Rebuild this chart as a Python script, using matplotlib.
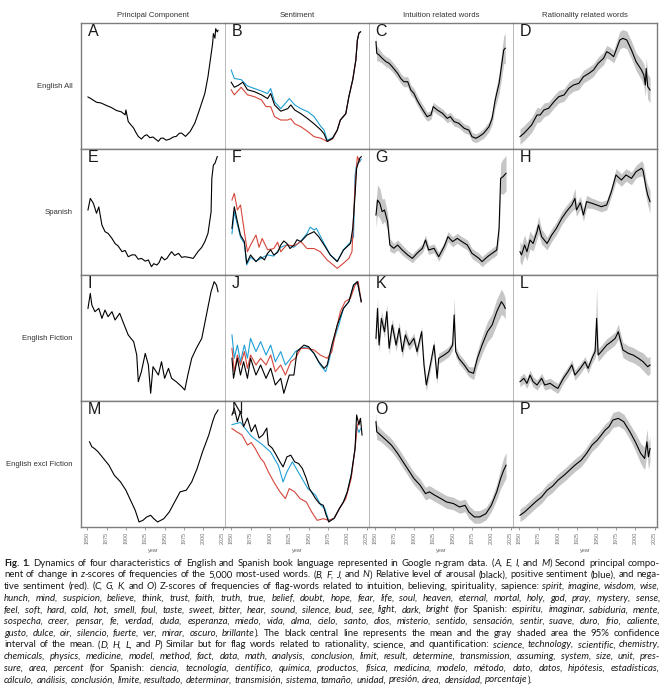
import matplotlib
matplotlib.use("Agg")
import matplotlib.pyplot as plt
import numpy as np

# ── panel data (y scaled 0..100 within each panel) ─────────────────────────────
# A  English All, principal component
a_year = [1851, 1856, 1862, 1868, 1875, 1881, 1888, 1894, 1899, 1900, 1903, 1906, 1910, 1913, 1916,
          1920, 1924, 1927, 1931, 1935, 1938, 1942, 1945, 1948, 1952, 1957, 1961, 1965, 1969, 1972,
          1977, 1983, 1989, 1995, 2002, 2006, 2009, 2012, 2013, 2015, 2016, 2018, 2019]
a_val = [41.3, 39.5, 37.1, 36.5, 34.5, 33.0, 30.5, 29.5, 27.1, 31.0, 21.8, 19.5, 16.6, 13.0, 10.0,
         7.9, 10.5, 11.3, 9.0, 9.5, 8.0, 6.1, 8.5, 8.7, 7.0, 7.9, 9.5, 10.0, 12.5, 12.6,
         10.0, 13.9, 20.5, 31.1, 44.2, 57.4, 70.5, 83.7, 91.6, 88.0, 95.5, 92.9, 94.2]

# B  English All, sentiment
b_k_year = [1850, 1854, 1859, 1865, 1871, 1880, 1889, 1897, 1901, 1906, 1914, 1923, 1927, 1932, 1940,
            1949, 1957, 1966, 1970, 1974, 1981, 1987, 1991, 1998, 2002, 2007, 2011, 2013, 2015, 2017]
b_k_val = [53, 49, 50.5, 53, 47, 45.5, 43, 40, 44, 35, 30, 32, 35, 31, 28,
           24, 20, 15, 12, 6, 8.5, 15, 23, 28, 41.5, 55, 70.6, 86.5, 92, 93]
b_b_year = [1850, 1854, 1863, 1871, 1880, 1889, 1897, 1901, 1906, 1914, 1925, 1932, 1940, 1949,
            1957, 1966, 1970, 1974, 1981, 1987, 1991, 1998, 2002, 2007, 2011, 2013, 2015, 2017]
b_b_val = [62.7, 56, 55, 50, 48, 46, 44, 48, 37.5, 32, 40, 35, 32, 29.6,
           25.7, 17.7, 15, 7, 9, 15, 23, 28, 41.5, 55, 70.6, 86.5, 92, 93]
b_r_year = [1850, 1854, 1863, 1871, 1880, 1889, 1895, 1901, 1906, 1914, 1923, 1927, 1932, 1940,
            1949, 1957, 1966, 1974, 1981, 1987, 1991, 1998, 2002, 2007, 2011, 2013, 2015, 2017]
b_r_val = [47, 43, 49, 43, 41.5, 39, 33.6, 33.6, 25.7, 23, 23, 24, 20, 17.7,
           13.8, 9.8, 8.5, 6, 8, 15, 23, 28, 41.5, 55, 70.6, 86.5, 92, 93]

# C  English All, intuition words (mean and 95% CI half-width)
c_year = [1851, 1852, 1855, 1859, 1864, 1868, 1872, 1879, 1883, 1887, 1892, 1896, 1900, 1904, 1909,
          1913, 1917, 1922, 1925, 1930, 1937, 1943, 1947, 1952, 1958, 1965, 1971, 1975, 1980, 1984,
          1990, 1997, 2001, 2005, 2010, 2013, 2016, 2018]
c_mean = [85.2, 76, 74.6, 72, 69.3, 68, 65.3, 60, 56, 53.4, 53.4, 46.8, 44.2, 38.9, 33.6,
          29.6, 25.7, 27, 33.6, 31, 28.3, 24.3, 25.7, 21.7, 20.4, 16.4, 15, 9.8, 8.5, 9.8,
          12.4, 17.7, 24.3, 38.9, 52, 65.3, 78.6, 80]
c_ci = [6, 6, 5, 4, 4, 4, 4, 4, 4, 4, 4, 4, 4, 4, 4,
        4, 3.5, 3.5, 3.5, 3.5, 3.5, 3.5, 3.5, 3.5, 3.5, 3.5, 3.5, 3.5, 3.5, 3.5,
        4, 4, 5, 6, 8, 10, 11, 12]

# D  English All, rationality words
d_year = [1851, 1856, 1860, 1866, 1873, 1877, 1882, 1888, 1895, 1901, 1908, 1914, 1920, 1927, 1933,
          1940, 1946, 1952, 1959, 1963, 1967, 1972, 1976, 1980, 1984, 1989, 1995, 2001, 2008, 2011,
          2013, 2014, 2016, 2019]
d_mean = [9.8, 12.4, 15, 19, 27, 27, 31, 32.3, 37.6, 41.5, 42.9, 48.1, 50.8, 52.1, 57.4,
          60, 62.7, 68, 72, 77.2, 75.9, 73.3, 79.9, 86.5, 87.8, 86.5, 78.6, 69.3, 62.7, 58.7,
          50.8, 64, 49.5, 46.8]
d_ci = [6, 6, 6, 6, 6, 5.5, 5.5, 5, 5, 5, 5, 5, 5, 5, 5,
        5, 5, 5, 5, 5, 5, 5, 6, 7, 7, 7, 7, 7, 8, 9,
        9, 9, 10, 10]

# E  Spanish, principal component
e_year = [1851, 1854, 1858, 1862, 1865, 1869, 1873, 1877, 1882, 1886, 1890, 1895, 1899, 1903, 1908,
          1912, 1916, 1920, 1925, 1929, 1933, 1936, 1940, 1943, 1946, 1950, 1953, 1956, 1959, 1963,
          1968, 1972, 1976, 1981, 1987, 1993, 1998, 2002, 2006, 2010, 2011, 2013, 2015, 2018]
e_val = [51.6, 60.8, 56.9, 49, 54, 39.7, 34.4, 33, 29, 25, 23, 18.5, 19.5, 14.5, 16,
         15.9, 12.5, 13.2, 11, 11.9, 6.6, 9, 7.9, 10, 14.5, 12, 13.2, 16, 18.5, 15.5,
         17.2, 14, 14.5, 14, 13.2, 18.5, 22, 26.5, 33, 50, 76.7, 87.3, 88.6, 94]

# F  Spanish, sentiment
f_k_year = [1851, 1854, 1858, 1862, 1867, 1870, 1875, 1882, 1888, 1893, 1897, 1901, 1905, 1910, 1914,
            1918, 1922, 1926, 1931, 1935, 1940, 1948, 1957, 1963, 1970, 1978, 1987, 1995, 2004, 2007,
            2010, 2012, 2016, 2018]
f_k_val = [37, 54.2, 42.3, 31.7, 26.5, 9.3, 15.9, 10.6, 14.5, 12, 17.2, 20, 15.9, 18, 23.8,
           27, 25, 21, 23.8, 28, 26.5, 31.7, 34.4, 30.4, 23.8, 15.9, 10.6, 19.8, 25, 37,
           63.5, 84.6, 92.6, 94]
f_b_year = [1851, 1854, 1858, 1862, 1867, 1870, 1875, 1882, 1888, 1897, 1905, 1914, 1922, 1931, 1940,
            1948, 1952, 1957, 1960, 1965, 1970, 1978, 1987, 1995, 2004, 2008, 2010, 2012, 2016, 2018]
f_b_val = [32.8, 50, 40, 30, 25, 8, 14, 11, 13, 16, 15, 22, 24, 22, 27,
           33, 38, 35.7, 37, 31, 25, 16, 11, 20, 26, 30, 79, 88, 90, 92]
f_r_year = [1851, 1854, 1858, 1862, 1867, 1871, 1875, 1882, 1886, 1890, 1897, 1905, 1910, 1914,
            1922, 1931, 1940, 1948, 1957, 1965, 1974, 1987, 1995, 2002, 2006, 2010, 2013, 2016]
f_r_val = [59.5, 64.8, 51.6, 55.6, 34.4, 18.5, 23.8, 31.7, 22, 29, 20, 21, 26, 18.5,
           24, 23, 26.5, 21, 21, 18.5, 11.9, 5.3, 9.3, 13.2, 18.5, 71.4, 94, 90]

# G  Spanish, intuition words
g_year = [1851, 1853, 1856, 1859, 1862, 1866, 1869, 1874, 1879, 1885, 1892, 1898, 1904, 1911, 1915,
          1919, 1926, 1932, 1939, 1944, 1950, 1956, 1962, 1969, 1975, 1984, 1988, 1995, 2001, 2007,
          2010, 2012, 2015, 2019]
g_mean = [47.6, 59.5, 56.9, 50.3, 51.6, 42.3, 23.8, 21.2, 23.8, 19.8, 15.9, 13.2, 17.2, 21.2, 27.8,
          19.8, 21.2, 14.5, 22.5, 30.4, 26.5, 29.1, 26.5, 23.8, 17.2, 13.2, 10.6, 14.5, 17.2, 19.8,
          37, 76.7, 78, 80.7]
g_ci = [10, 12, 12, 10, 9, 7, 5, 4, 4, 4, 3.5, 3.5, 3.5, 3.5, 4,
        3.5, 3.5, 3.5, 3.5, 4, 4, 4, 4, 4, 4, 4, 4, 4, 4, 4,
        8, 12, 14, 14]

# H  Spanish, rationality words
h_year = [1851, 1853, 1857, 1860, 1864, 1868, 1873, 1875, 1879, 1886, 1892, 1898, 1905, 1911, 1918,
          1922, 1924, 1929, 1933, 1937, 1944, 1950, 1956, 1963, 1969, 1975, 1982, 1988, 1995, 2001,
          2008, 2010, 2014, 2016, 2019]
h_mean = [18.5, 15.9, 23.8, 18.5, 27.8, 25, 34.4, 39.7, 30.4, 25, 31.7, 37, 45, 50.3, 55.6,
          60.8, 51.6, 57.4, 47.6, 58.2, 56.9, 55.6, 54.2, 55.6, 66.1, 79.4, 75.4, 79.4, 76.7, 82,
          84.7, 83, 68.8, 63.5, 58.2]
h_ci = [8, 8, 8, 7, 7, 6, 6, 7, 6, 5, 5, 5, 5, 5, 5,
        8, 5, 5, 5, 5, 4, 4, 4, 4, 4, 5, 5, 5, 5, 5,
        6, 6, 7, 8, 9]

# I  English Fiction, principal component
i_year = [1851, 1854, 1856, 1860, 1865, 1869, 1873, 1877, 1882, 1886, 1892, 1897, 1903, 1910, 1914,
          1916, 1920, 1925, 1929, 1932, 1935, 1942, 1946, 1950, 1955, 1959, 1965, 1972, 1976, 1980,
          1985, 1991, 1998, 2004, 2010, 2014, 2017, 2019]
i_val = [73.5, 85.4, 76.2, 70.9, 73.5, 65.6, 72.2, 66.9, 70.9, 64.3, 69.6, 61.6, 52.4, 47.1, 36.5,
         15.3, 23.3, 37.8, 28.6, 6.1, 27.2, 20.6, 31.2, 18, 25.9, 18, 15.3, 11.4, 8.7, 20.6,
         33.9, 41.8, 49.7, 68.3, 86.8, 94.7, 92, 86.8]

# J  English Fiction, sentiment
j_k_year = [1851, 1853, 1858, 1862, 1866, 1871, 1875, 1882, 1888, 1895, 1901, 1907, 1914, 1918, 1925,
            1931, 1935, 1944, 1950, 1957, 1963, 1970, 1974, 1980, 1987, 1995, 2002, 2008, 2013, 2018]
j_k_val = [33.9, 18, 33.9, 20.6, 31.2, 18, 33.9, 20.6, 28.6, 18, 26, 12.7, 18, 6.1, 20.6,
           20.6, 39.2, 44.4, 43.1, 37.8, 31.2, 25.9, 28.6, 44.4, 60.3, 73.5, 78.8, 92, 94.7, 78.8]
j_b_year = [1851, 1854, 1858, 1862, 1867, 1871, 1875, 1882, 1888, 1895, 1901, 1907, 1914, 1920, 1927,
            1933, 1940, 1948, 1957, 1965, 1972, 1976, 1982, 1989, 1995, 2002, 2008, 2013, 2018]
j_b_val = [52.4, 33.9, 44.4, 31.2, 44.4, 33.9, 49.7, 39.2, 47.1, 36.5, 44.4, 31.2, 39.2, 28.6, 33.9,
           39.2, 41.8, 43.1, 37.8, 28.6, 23.3, 31.2, 47.1, 60.3, 73.5, 78.8, 92, 94.7, 78.8]
j_r_year = [1851, 1854, 1858, 1862, 1867, 1871, 1875, 1882, 1888, 1895, 1901, 1907, 1914, 1920, 1927,
            1933, 1940, 1948, 1957, 1965, 1974, 1980, 1985, 1991, 1997, 2004, 2010, 2014, 2018]
j_r_val = [41.8, 23.3, 36.5, 28.6, 39.2, 25.9, 36.5, 28.6, 33.9, 28.6, 36.5, 23.3, 28.6, 20.6, 31.2,
           33.9, 41.8, 41.8, 40.5, 36.5, 33.9, 39.2, 55, 70.9, 78.8, 81.5, 92, 94.7, 78.8]

# K  English Fiction, intuition words
k_year = [1851, 1853, 1855, 1858, 1862, 1865, 1868, 1872, 1877, 1881, 1885, 1889, 1894, 1900, 1904,
          1910, 1913, 1916, 1922, 1926, 1930, 1932, 1939, 1945, 1950, 1952, 1954, 1958, 1965, 1971,
          1977, 1982, 1988, 1995, 2001, 2007, 2013, 2016, 2018]
k_mean = [49.7, 73.5, 44.4, 65.6, 55, 70.9, 41.8, 60.3, 44.4, 57.7, 39.2, 52.4, 44.4, 49.7, 39.2,
          55, 28.6, 12.7, 31.2, 44.4, 18, 33.9, 36.5, 39.2, 44.4, 68.3, 39.2, 33.9, 28.6, 23.3,
          22, 33.9, 44.4, 55, 60.3, 70.9, 78.8, 76.2, 73.5]
k_ci = [6, 8, 6, 6, 5, 6, 5, 5, 5, 5, 5, 5, 4, 4, 4,
        4, 5, 5, 4, 4, 5, 4, 4, 4, 4, 14, 4, 4, 4, 4,
        5, 6, 7, 8, 9, 10, 10, 9, 8]

# L  English Fiction, rationality words
l_year = [1851, 1856, 1860, 1864, 1868, 1873, 1879, 1883, 1890, 1896, 1900, 1907, 1913, 1918, 1922,
          1929, 1935, 1939, 1944, 1948, 1950, 1952, 1956, 1963, 1969, 1974, 1978, 1980, 1984, 1991,
          1997, 2004, 2010, 2016, 2019]
l_mean = [15.3, 18, 14, 20.6, 15.3, 12.7, 18, 12.7, 14, 11.4, 10, 18, 23.3, 28.6, 20.6,
          25.9, 31.2, 25.9, 33.9, 39.2, 65.6, 36.5, 39.2, 44.4, 47.1, 49.7, 55, 50, 40.5, 37.8,
          36.5, 33.9, 31.2, 27.2, 28.6]
l_ci = [4, 4, 4, 4, 4, 4, 4, 4, 4, 4, 4, 4, 4, 4, 4,
        4, 4, 4, 4, 5, 25, 5, 5, 5, 5, 5, 6, 6, 6, 6,
        6, 6, 7, 7, 7]

# M  English excl Fiction, principal component
m_year = [1853, 1856, 1860, 1864, 1871, 1878, 1885, 1893, 1900, 1902, 1907, 1912, 1917, 1922, 1927,
          1932, 1936, 1941, 1949, 1956, 1963, 1970, 1978, 1985, 1992, 1999, 2007, 2012, 2015, 2019]
m_val = [67.6, 63.7, 62, 59.7, 54.4, 49.1, 41.1, 35.8, 29.2, 26.5, 19.9, 13.3, 4, 5.3, 8,
         9.3, 6.6, 4, 6.6, 11.9, 19.9, 27.9, 29.2, 35.8, 46.4, 59.7, 72.9, 83.6, 88.9, 92.8]

# N  English excl Fiction, sentiment
n_k_year = [1851, 1854, 1858, 1862, 1866, 1871, 1876, 1881, 1886, 1891, 1896, 1898, 1903, 1908, 1913,
            1917, 1922, 1927, 1932, 1937, 1942, 1947, 1951, 1959, 1964, 1969, 1972, 1976, 1983, 1990,
            1995, 2000, 2005, 2010, 2012, 2015, 2017, 2019]
n_k_val = [88.9, 94.2, 83.6, 91.8, 79.6, 86.5, 75.6, 81.2, 70.6, 73.2, 78.5, 65.3, 62.6, 57.3, 51.7,
           47.7, 55.7, 57, 51.7, 50.4, 46.4, 38.5, 30.5, 22.5, 18.6, 17.2, 10.6, 4, 6.9, 14.9,
           19.9, 27.9, 41.1, 62.3, 88.9, 81, 86.2, 73]
n_b_year = [1851, 1862, 1876, 1891, 1901, 1911, 1917, 1922, 1929, 1939, 1949, 1959, 1966, 1971, 1976,
            1983, 1990, 1995, 2000, 2005, 2010, 2012, 2015, 2017]
n_b_val = [81.2, 83, 72, 65, 59.4, 48.8, 35.8, 43.8, 51.7, 41.1, 30.5, 25.2, 17.2, 14.6, 5,
           6.9, 14.9, 19.9, 27.9, 41.1, 62.3, 80, 75, 78]
n_r_year = [1851, 1857, 1864, 1871, 1876, 1881, 1888, 1892, 1898, 1905, 1913, 1920, 1925, 1932, 1939,
            1947, 1954, 1961, 1969, 1976, 1983, 1990, 1998, 2005, 2010, 2013, 2017]
n_r_val = [78.2, 75.6, 73, 65, 67, 62.3, 54.4, 51.7, 43.8, 35.8, 27.9, 22.5, 30.5, 27.9, 22.5,
           19.9, 11.9, 5.3, 6.6, 5.3, 6.9, 14.9, 22.5, 38.5, 62.3, 81, 86]

# O  English excl Fiction, intuition words
o_year = [1851, 1852, 1857, 1864, 1871, 1879, 1886, 1893, 1900, 1908, 1915, 1920, 1927, 1935, 1942,
          1951, 1959, 1966, 1971, 1978, 1985, 1993, 2000, 2007, 2012, 2016, 2019]
o_mean = [83.6, 75.6, 72.9, 69, 65, 58.4, 51.7, 45.1, 38.5, 33.2, 26.5, 27.9, 25.2, 22.5, 19.9,
          18.6, 15.9, 17.2, 11.9, 8, 8, 10.6, 17.2, 27.9, 38.5, 45.1, 49]
o_ci = [8, 6, 5, 5, 5, 5, 5, 5, 5, 5, 5, 5, 5, 5, 5,
        5, 5, 5, 5, 5, 5, 5, 5, 6, 8, 10, 10]

# P  English excl Fiction, rationality words
p_year = [1851, 1857, 1864, 1871, 1879, 1886, 1893, 1900, 1908, 1915, 1922, 1930, 1937, 1944, 1951,
          1956, 1961, 1966, 1971, 1978, 1985, 1993, 2000, 2007, 2012, 2015, 2017, 2019]
p_mean = [9.3, 11.9, 15.9, 19.9, 23.9, 29.2, 32.4, 37.1, 41.1, 45.1, 49.1, 53, 58.4, 65, 69,
          72.9, 76.9, 79.6, 84.9, 86.2, 83.6, 75.6, 67.6, 58.4, 54.4, 67.6, 55.7, 62.3]
p_ci = [5, 5, 5, 5, 5, 5, 5, 5, 5, 5, 5, 5, 5, 5, 5,
        5, 5, 5, 6, 6, 6, 6, 7, 8, 9, 10, 10, 10]

col_titles = ["Principal Component", "Sentiment", "Intuition related words", "Rationality related words"]
row_titles = ["English All", "Spanish", "English Fiction", "English excl Fiction"]
panel_letters = ["A", "B", "C", "D", "E", "F", "G", "H", "I", "J", "K", "L", "M", "N", "O", "P"]
year_ticks = [1850, 1875, 1900, 1925, 1950, 1975, 2000, 2025]

# caption lines: (text, style)  n = normal, i = italic, b = bold
caption = [
    [("Fig. 1.", "b"), (" Dynamics of four characteristics of English and Spanish book language represented in Google n-gram data. (", "n"),
     ("A, E, I,", "i"), (" and ", "n"), ("M", "i"), (") Second principal compo-", "n")],
    [("nent of change in ", "n"), ("z", "i"), ("-scores of frequencies of the 5,000 most-used words. (", "n"), ("B, F, J,", "i"),
     (" and ", "n"), ("N", "i"), (") Relative level of arousal (black), positive sentiment (blue), and nega-", "n")],
    [("tive sentiment (red). (", "n"), ("C, G, K,", "i"), (" and ", "n"), ("O", "i"),
     (") Z-scores of frequencies of flag-words related to intuition, believing, spirituality, sapience: ", "n"),
     ("spirit, imagine, wisdom, wise,", "i")],
    [("hunch, mind, suspicion, believe, think, trust, faith, truth, true, belief, doubt, hope, fear, life, soul, heaven, eternal, mortal, holy, god, pray, mystery, sense,", "i")],
    [("feel, soft, hard, cold, hot, smell, foul, taste, sweet, bitter, hear, sound, silence, loud, see, light, dark, bright", "i"),
     (" (for Spanish: ", "n"), ("espiritu, imaginar, sabiduria, mente,", "i")],
    [("sospecha, creer, pensar, fe, verdad, duda, esperanza, miedo, vida, alma, cielo, santo, dios, misterio, sentido, sensación, sentir, suave, duro, frio, caliente,", "i")],
    [("gusto, dulce, oir, silencio, fuerte, ver, mirar, oscuro, brillante", "i"),
     ("). The black central line represents the mean and the gray shaded area the 95% confidence", "n")],
    [("interval of the mean. (", "n"), ("D, H, L,", "i"), (" and ", "n"), ("P", "i"),
     (") Similar but for flag words related to rationality, science, and quantification: ", "n"),
     ("science, technology, scientific, chemistry,", "i")],
    [("chemicals, physics, medicine, model, method, fact, data, math, analysis, conclusion, limit, result, determine, transmission, assuming, system, size, unit, pres-", "i")],
    [("sure, area, percent", "i"), (" (for Spanish: ", "n"),
     ("ciencia, tecnología, científico, química, productos, física, medicina, modelo, método, dato, datos, hipótesis, estadísticas,", "i")],
    [("cálculo, análisis, conclusión, límite, resultado, determinar, transmisión, sistema, tamaño, unidad, presión, área, densidad, porcentaje", "i"),
     (").", "n")],
]

# ── layout ────────────────────────────────────────────────────────────────────
FW, FH = 665, 692
COL_X = [81, 225, 369, 513]
ROW_Y = [23, 149, 275, 401]
PW, PH = 144, 126
DARK_EDGE = "#7d7d7d"
LIGHT_EDGE = "#b8b8b8"
BLUE = "#1f9fd5"
RED = "#d6463b"
BAND = "#c6c6c6"
LBL_FONT = ["Liberation Sans", "DejaVu Sans"]
CAP_FONT = ["Lato", "DejaVu Sans"]

fig = plt.figure(figsize=(FW / 100, FH / 100), dpi=100)
fig.patch.set_facecolor("white")


def make_ax(r, c):
    ax = fig.add_axes([COL_X[c] / FW, 1 - (ROW_Y[r] + PH) / FH, PW / FW, PH / FH])
    ax.set_xlim(1842, 2028)
    ax.set_ylim(0, 100)
    ax.set_yticks([])
    for side, sp in ax.spines.items():
        if side in ("top", "bottom"):
            sp.set_color(DARK_EDGE)
            sp.set_linewidth(1.0)
        else:
            sp.set_color(LIGHT_EDGE)
            sp.set_linewidth(0.7)
    if c == 0:
        ax.spines["left"].set_color(DARK_EDGE)
        ax.spines["left"].set_linewidth(1.0)
    if c == 3:
        ax.spines["right"].set_color(DARK_EDGE)
        ax.spines["right"].set_linewidth(1.0)
    if r == 3:
        ax.set_xticks(year_ticks)
        ax.set_xticklabels([str(t) for t in year_ticks], rotation=90, fontsize=3.9,
                           color="#707070", family=LBL_FONT)
        ax.tick_params(axis="x", length=2.2, width=0.5, color="#777777", pad=1.2)
        ax.set_xlabel("year", fontsize=4, color="#666666", labelpad=2.5, family=LBL_FONT)
    else:
        ax.set_xticks([])
    ax.text(0.045, 0.992, panel_letters[r * 4 + c], transform=ax.transAxes, ha="left", va="top",
            fontsize=11.5, color="#1a1a1a", family=LBL_FONT)
    return ax


def draw_pc(ax, yr, v):
    ax.plot(yr, v, color="black", lw=0.8)


def draw_sent(ax, kb, kv, bb, bv, rb, rv):
    ax.plot(bb, bv, color=BLUE, lw=0.8)
    ax.plot(rb, rv, color=RED, lw=0.8)
    ax.plot(kb, kv, color="black", lw=0.8)


def draw_band(ax, yr, m, ci):
    yr, m, ci = np.array(yr), np.array(m), np.array(ci)
    ax.fill_between(yr, m - ci, m + ci, color=BAND, lw=0)
    ax.plot(yr, m, color="black", lw=0.8)


pc_data = [(a_year, a_val), (e_year, e_val), (i_year, i_val), (m_year, m_val)]
sent_data = [
    (b_k_year, b_k_val, b_b_year, b_b_val, b_r_year, b_r_val),
    (f_k_year, f_k_val, f_b_year, f_b_val, f_r_year, f_r_val),
    (j_k_year, j_k_val, j_b_year, j_b_val, j_r_year, j_r_val),
    (n_k_year, n_k_val, n_b_year, n_b_val, n_r_year, n_r_val),
]
intu_data = [(c_year, c_mean, c_ci), (g_year, g_mean, g_ci), (k_year, k_mean, k_ci), (o_year, o_mean, o_ci)]
rat_data = [(d_year, d_mean, d_ci), (h_year, h_mean, h_ci), (l_year, l_mean, l_ci), (p_year, p_mean, p_ci)]

for r in range(4):
    draw_pc(make_ax(r, 0), *pc_data[r])
    draw_sent(make_ax(r, 1), *sent_data[r])
    draw_band(make_ax(r, 2), *intu_data[r])
    draw_band(make_ax(r, 3), *rat_data[r])

for c, title in enumerate(col_titles):
    fig.text((COL_X[c] + PW / 2) / FW, 1 - 15.5 / FH, title, ha="center", va="center",
             fontsize=5.6, color="#333333", family=LBL_FONT)
for r, title in enumerate(row_titles):
    fig.text(73 / FW, 1 - (ROW_Y[r] + PH / 2) / FH, title, ha="right", va="center",
             fontsize=5.6, color="#333333", family=LBL_FONT)

# ── caption, justified word by word ───────────────────────────────────────────
renderer = fig.canvas.get_renderer()
CAP_L, CAP_R = 4, 660
CAP_BASE, CAP_STEP = 565.5, 11.7


def style_kw(st):
    return dict(fontstyle="italic" if st == "i" else "normal",
                fontweight="bold" if st == "b" else "normal")


def piece_w(txt, st, size):
    t = fig.text(0, 0, txt, fontsize=size, family=CAP_FONT, **style_kw(st))
    w = t.get_window_extent(renderer).width
    t.remove()
    return w


def split_words(segs):
    words = [[]]
    for txt, st in segs:
        for k, p in enumerate(txt.split(" ")):
            if k > 0:
                words.append([])
            if p:
                words[-1].append((p, st))
    return [w for w in words if w]


line_words = [split_words(segs) for segs in caption]
base = 10.0
space10 = piece_w("a a", "n", base) - piece_w("aa", "n", base)
size = 7.0
for words in line_words[:-1]:
    tot = sum(piece_w(p, st, base) for w in words for p, st in w) + (len(words) - 1) * space10
    size = min(size, base * (CAP_R - CAP_L) / tot * 0.995)

space = space10 * size / base
for li, words in enumerate(line_words):
    widths = [[piece_w(p, st, size) for p, st in w] for w in words]
    total = sum(sum(ws) for ws in widths)
    if li < len(line_words) - 1 and len(words) > 1:
        gap = (CAP_R - CAP_L - total) / (len(words) - 1)
    else:
        gap = space
    x = CAP_L
    y = 1 - (CAP_BASE + li * CAP_STEP) / FH
    for w, ws in zip(words, widths):
        for (p, st), pw in zip(w, ws):
            fig.text(x / FW, y, p, fontsize=size, family=CAP_FONT, ha="left", va="baseline",
                     color="#1a1a1a", **style_kw(st))
            x += pw
        x += gap

fig.savefig("out.png", dpi=100)
